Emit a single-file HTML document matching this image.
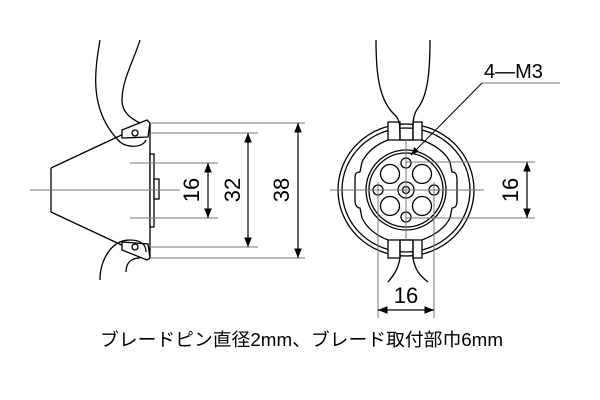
<!DOCTYPE html>
<html><head><meta charset="utf-8"><style>
html,body{margin:0;padding:0;background:#fff;width:600px;height:400px;overflow:hidden}
</style></head><body>
<svg width="600" height="400" viewBox="0 0 600 400" xmlns="http://www.w3.org/2000/svg" font-family="Liberation Sans, sans-serif">
<defs>
<marker id="a" viewBox="0 0 10 10" refX="10" refY="5" markerWidth="8" markerHeight="8" orient="auto-start-reverse"><path d="M0,1 L10,5 L0,9 Z" fill="#000"/></marker>
</defs>
<g stroke="#000" fill="none" stroke-width="1.3">
<path d="M150,123 L150,258"/>
<path d="M51,168 L51,212"/>
<path d="M51,168 L128,132"/>
<path d="M51,212 L128,248"/>
<rect x="150" y="154" width="4" height="73" fill="#fff"/>
<rect x="154" y="179" width="5" height="20" fill="#fff"/>
<path d="M122,130 L147,120 L150,123 L148,137 L122,138 Z" fill="#fff"/>
<circle cx="135" cy="133" r="3"/>
<path d="M100,40 C95,70 88,110 120,142 C128,148 142,148 146,140"/>
<path d="M140,40 C134,60 122,80 122,100 C122,112 130,118 140,123"/>
<path d="M122,250 L147,260 L150,258 L148,244 L122,242 Z" fill="#fff"/>
<circle cx="135" cy="247" r="3"/>
<path d="M100,280 C100,262 110,240 130,240 C140,240 146,244 146,252"/>
<path d="M126,272 C126,264 130,258 140,258"/>
</g>
<g stroke="#777" stroke-width="1" fill="none">
<path d="M30,190 L180,190"/>
<path d="M130,163 L218,163 M130,218 L218,218"/>
<path d="M150,133 L258,133 M150,247 L258,247"/>
<path d="M150,123 L305,123 M150,258 L305,258"/>
</g>
<g stroke="#000" stroke-width="1.2">
<line x1="208" y1="163" x2="208" y2="218" marker-start="url(#a)" marker-end="url(#a)"/>
<line x1="248" y1="133" x2="248" y2="247" marker-start="url(#a)" marker-end="url(#a)"/>
<line x1="298" y1="123" x2="298" y2="258" marker-start="url(#a)" marker-end="url(#a)"/>
</g>
<g font-size="22" fill="#000">
<text transform="translate(199,190) rotate(-90)" text-anchor="middle">16</text>
<text transform="translate(240,190) rotate(-90)" text-anchor="middle">32</text>
<text transform="translate(289,190) rotate(-90)" text-anchor="middle">38</text>
</g>

<g stroke="#000" fill="none" stroke-width="1.3">
<ellipse cx="406" cy="190" rx="68" ry="66"/>
<ellipse cx="406" cy="190" rx="64" ry="62"/>
<path d="M388,122 L388,140 C375,145 367,152 362,162 L360,172 C355,172 355,175 355,180 L355,200 C355,205 357,208 360,208 L362,218 C367,228 375,235 388,240 L388,258 L400,258 L400,240 L413,240 L413,258 L422,258 L422,240 C435,235 445,228 450,218 L452,208 C456,208 457,205 457,200 L457,180 C457,175 456,172 452,172 L450,162 C445,152 435,145 422,140 L422,122 L413,122 L413,140 L400,140 L400,122 Z" fill="#fff"/>
<path d="M376,40 C376,70 378,100 395,115 C400,120 400,125 400,140"/>
<path d="M430,40 C430,70 428,95 418,108 C412,116 413,125 413,140"/>
<path d="M388,140 L422,140 M388,240 L422,240"/>
<path d="M400,240 L400,258 C398,270 393,276 388,282"/>
<path d="M413,240 L413,258 C415,270 420,276 428,282"/>
<circle cx="406" cy="190" r="40"/>
<circle cx="406" cy="190" r="37"/>
<circle cx="406" cy="163" r="5"/>
<circle cx="406" cy="217" r="5"/>
<circle cx="378" cy="190" r="5"/>
<circle cx="434" cy="190" r="5"/>
<circle cx="390" cy="174" r="9.5"/>
<circle cx="422" cy="174" r="9.5"/>
<circle cx="390" cy="206" r="9.5"/>
<circle cx="422" cy="206" r="9.5"/>
<circle cx="406" cy="190" r="8"/>
<circle cx="406" cy="190" r="3.5"/>
</g>
<g stroke="#777" stroke-width="1" fill="none">
<path d="M330,190 L484,190"/>
<path d="M406,140 L406,240"/>
<path d="M406,162 L535,162 M406,218 L535,218"/>
<path d="M378,182 L378,318 M434,182 L434,318"/>
<path d="M482,83 L560,83"/>
</g>
<g stroke="#000" stroke-width="1.2">
<line x1="527" y1="162" x2="527" y2="218" marker-start="url(#a)" marker-end="url(#a)"/>
<line x1="378" y1="310" x2="434" y2="310" marker-start="url(#a)" marker-end="url(#a)"/>
<line x1="482" y1="83" x2="411" y2="155" stroke-width="1" marker-end="url(#a)"/>
</g>
<g font-size="22" fill="#000">
<text transform="translate(518,190) rotate(-90)" text-anchor="middle">16</text>
<text x="406" y="303" text-anchor="middle">16</text>
<text x="484" y="78" font-size="20">4—M3</text>
</g>
<text x="100" y="346" font-size="18" textLength="403" lengthAdjust="spacingAndGlyphs" font-family="Liberation Sans, Noto Sans CJK JP, sans-serif">ブレードピン直径2mm、ブレード取付部巾6mm</text>
</svg>
</body></html>
